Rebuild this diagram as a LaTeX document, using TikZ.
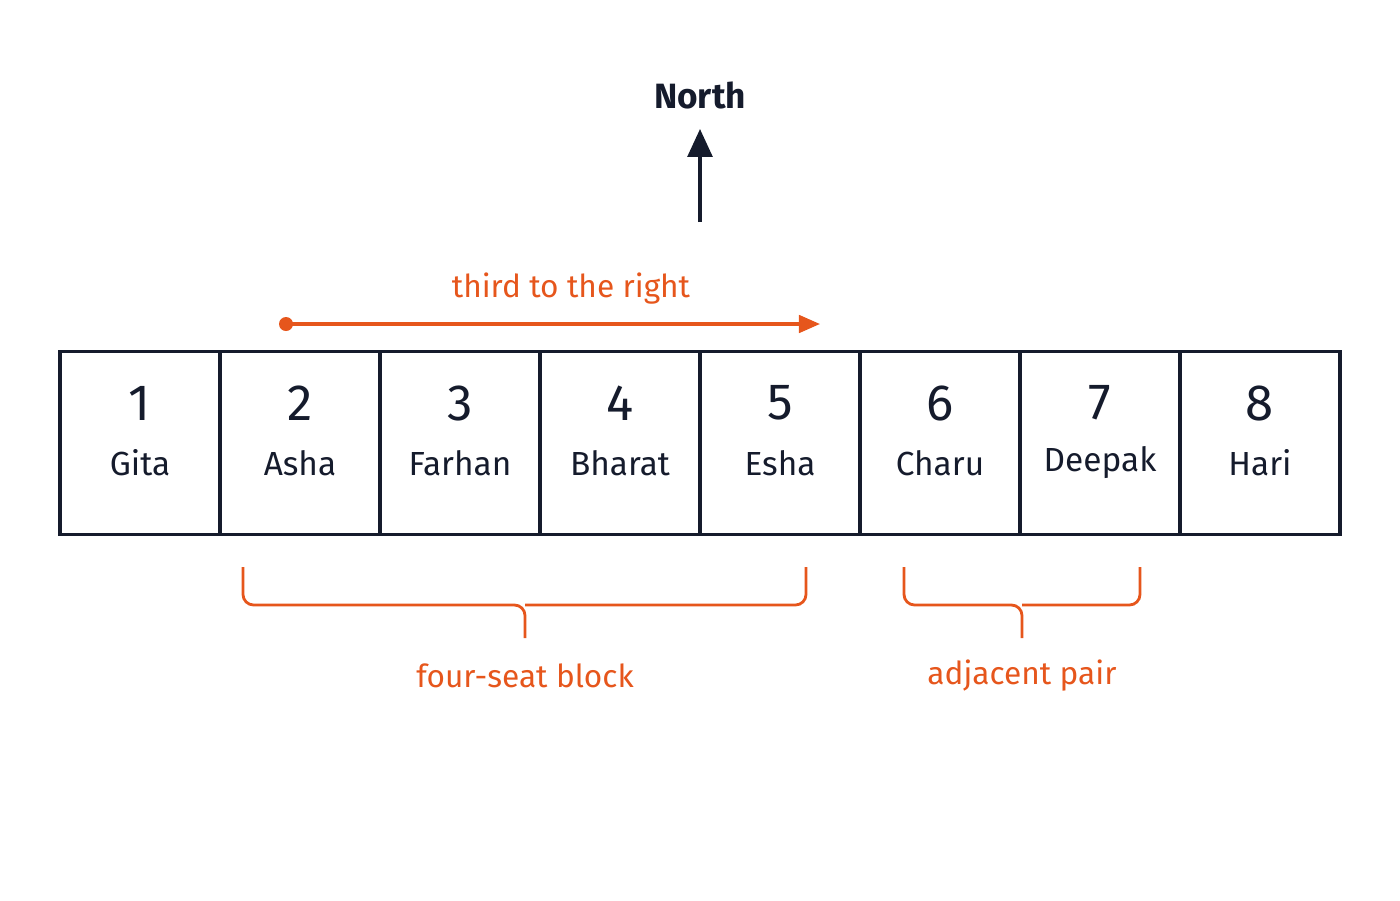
\documentclass[tikz,border=0pt]{standalone}
\usepackage{fontspec}
\setmainfont{Fira Sans}
\usetikzlibrary{positioning,arrows.meta}
\definecolor{navy}{HTML}{151B2C}
\definecolor{accent}{HTML}{E6561C}
\tikzset{
  seat/.style={draw=navy, line width=2pt, minimum width=3.2cm, minimum height=3.66cm, inner sep=0pt},
  num/.style={text=navy, font=\fontsize{29}{34}\selectfont},
  who/.style={text=navy, font=\fontsize{19}{23}\selectfont},
  note/.style={text=accent, font=\fontsize{18}{22}\selectfont},
  brace/.style={draw=accent, line width=1.6pt, rounded corners=6pt}
}
\begin{document}
\begin{tikzpicture}[x=0.02cm, y=-0.02cm]
    \useasboundingbox (0,0) rectangle (1400,900);
    % seats in a row
    \foreach \n/\name [count=\i from 0] in {1/Gita,2/Asha,3/Farhan,4/Bharat,5/Esha,6/Charu,7/Deepak,8/Hari} {
        \node[seat] (s\n) at ({140+\i*160},443) {};
        \node[num] (n\n) at ({140+\i*160},403) {\n};
        \node[who] (w\n) at ({140+\i*160},463) {\name};
    }

    % north marker
    \node[text=navy, font=\bfseries\fontsize{20}{24}\selectfont] (north) at (700,95) {North};
    \coordinate (nbase) at (700,222);
    \draw[-{Triangle[length=16pt,width=14pt]}, line width=2.4pt, navy] (nbase) -- ([yshift=-8]north.south);

    % third to the right
    \coordinate (tstart) at (286,324);
    \coordinate (tend) at (820,324);
    \fill[accent] (tstart) circle (7);
    \draw[-{Triangle[length=12pt,width=10pt]}, line width=1.8pt, accent] (tstart) -- (tend);
    \node[note] (third) at (571,289) {third to the right};

    % braces below
    \draw[brace] (243,567) -- (243,605) -- (525,605) -- (525,638);
    \draw[brace] (806,567) -- (806,605) -- (525,605);
    \node[note] (block) at (525,676) {four-seat block};
    \draw[brace] (904,567) -- (904,605) -- (1022,605) -- (1022,638);
    \draw[brace] (1140,567) -- (1140,605) -- (1022,605);
    \node[note] (pair) at (1022,676) {adjacent pair};
\end{tikzpicture}
\end{document}
